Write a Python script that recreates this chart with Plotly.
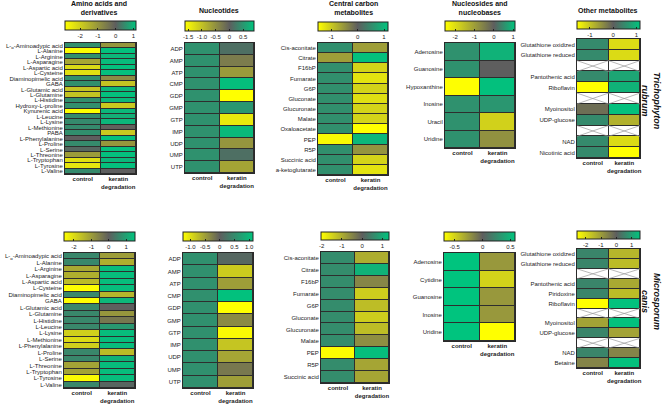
import plotly.graph_objects as go

W, H = 669, 405
YELLOW, GRAY, GREEN = "#FFFF00", "#5E5E5E", "#00C47E"
FONT = "Liberation Sans, Arial, sans-serif"

COLS = ["<b>control</b>", "<b>keratin<br>degradation</b>"]

# ---------------- Trichophyton rubrum ----------------
aa_tr_labels = ["L-<sub>α</sub>-Aminoadypic acid", "L-Alanine", "L-Arginine", "L-Asparagine", "L-Aspartic acid",
                "L-Cysteine", "Diaminopimelic acid", "GABA", "L-Glutamic acid", "L-Glutamine", "L-Histidine",
                "Hydroxy-L-proline", "Kynurenic acid", "L-Leucine", "L-Lysine", "L-Methionine", "PABA",
                "L-Phenylalanine", "L-Proline", "L-Serine", "L-Threonine", "L-Tryptophan", "L-Tyrosine", "L-Valine"]
aa_tr_control = [0.55, -2.8, 0.55, -1.3, -2.2, -2.3, 0.55, 0.55, -1.8, -1.8, 0.55, 0.55, -2.85, 0.5, 0.5, 0.5,
                 0.55, 0.0, 0.5, 0.1, -1.1, -2.3, -2.4, 0.5]
aa_tr_keratin = [-1.0, 1.1, 1.0, 1.05, 1.1, 1.1, -0.8, -1.8, 1.0, 1.1, 1.0, -1.9, 1.0, 0.9, 1.0, -0.05, -1.9,
                 1.1, -1.0, 1.1, 1.1, 1.0, 1.1, 0.0]

nt_tr_labels = ["ADP", "AMP", "ATP", "CMP", "GDP", "GMP", "GTP", "IMP", "UDP", "UMP", "UTP"]
nt_tr_control = [0.45] * 11
nt_tr_keratin = [0.15, -0.3, -0.6, 0.85, -1.62, 0.5, -1.4, 0.8, -0.55, 0.15, -0.7]

cc_tr_labels = ["Cis-aconitate", "Citrate", "F16bP", "Fumarate", "G6P", "Gluconate", "Glucuronate", "Malate",
                "Oxaloacetate", "PEP", "R5P", "Succinic acid", "a-ketoglutarate"]
cc_tr_control = [0.55, -0.6, 0.55, 0.55, 0.55, 0.55, 0.55, 0.55, 0.55, -1.45, 0.55, 0.55, 0.55]
cc_tr_keratin = [-0.6, 1.1, -1.1, -1.25, -1.1, -1.2, -1.1, -1.1, -1.5, 1.0, -0.5, -1.1, -1.25]

ns_tr_labels = ["Adenosine", "Guanosine", "Hypoxanthine", "Inosine", "Uracil", "Uridine"]
ns_tr_control = [0.55, 0.55, -2.5, 0.55, 0.55, 0.55]
ns_tr_keratin = [0.9, 0.0, 1.05, 0.6, -1.8, -0.8]

ot_tr_labels = ["Glutathione oxidized", "Glutathione reduced", "", "Pantothenic acid", "Riboflavin", "",
                "Myoinositol", "UDP-glucose", "", "NAD", "Nicotinic acid"]
ot_tr_control = [0.5, 0.5, None, 0.5, -1.55, None, -0.15, 0.5, None, 0.5, 0.5]
ot_tr_keratin = [-1.2, -1.2, None, 0.8, 0.95, None, 1.1, -0.8, None, -1.2, -1.55]

# ---------------- Microsporum canis ----------------
aa_mc_labels = ["L-<sub>α</sub>-Aminoadypic acid", "L-Alanine", "L-Arginine", "L-Asparagine", "L-Aspartic acid",
                "L-Cysteine", "Diaminopimelic acid", "GABA", "L-Glutamic acid", "L-Glutamine", "L-Histidine",
                "L-Leucine", "L-Lysine", "L-Methionine", "L-Phenylalanine", "L-Proline", "L-Serine",
                "L-Threonine", "L-Tryptophan", "L-Tyrosine", "L-Valine"]
aa_mc_control = [0.6, 0.6, -1.2, -1.3, -1.5, -2.55, 0.6, -2.55, 0.6, 0.6, 0.6, 0.6, -1.8, -2.0, -1.8, 0.6, 0.6,
                 -1.1, -1.1, -2.5, 0.6]
aa_mc_keratin = [-1.0, -1.3, 1.4, 1.4, 1.4, 1.4, -1.4, 1.3, 0.0, -0.9, -0.4, 0.85, 1.4, 1.4, 1.4, -1.5, 1.25,
                 1.4, 1.4, 1.4, 0.1]

nt_mc_labels = ["ADP", "AMP", "ATP", "CMP", "GDP", "GMP", "GTP", "IMP", "UDP", "UMP", "UTP"]
nt_mc_control = [0.55] * 11
nt_mc_keratin = [0.1, -0.85, -0.5, 1.1, -1.25, -0.35, -1.2, -0.8, -0.55, -0.2, -0.5]

cc_mc_labels = ["Cis-aconitate", "Citrate", "F16bP", "Fumarate", "G6P", "Gluconate", "Glucuronate", "Malate",
                "PEP", "R5P", "Succinic acid"]
cc_mc_control = [0.6, 0.6, 0.6, 0.6, 0.6, 0.6, 0.6, 0.6, -2.0, 0.6, 0.6]
cc_mc_keratin = [-1.0, 1.1, -0.5, -1.4, -1.2, -1.4, -1.2, -0.6, 1.25, -0.9, -0.9]

ns_mc_labels = ["Adenosine", "Cytidine", "Guanosine", "Inosine", "Uridine"]
ns_mc_control = [0.58, 0.58, 0.58, 0.58, 0.58]
ns_mc_keratin = [-0.25, -0.5, -0.25, -0.25, -0.69]

ot_mc_labels = ["Glutathione oxidized", "Glutathione reduced", "", "Pantothenic acid", "Piridoxine", "Riboflavin",
                "", "Myoinositol", "UDP-glucose", "", "NAD", "Betaine"]
ot_mc_control = [0.6, 0.6, None, 0.6, 0.6, -2.57, None, -1.1, 0.6, None, 0.6, -0.6]
ot_mc_keratin = [-1.4, -1.5, None, -1.2, -1.5, 1.5, None, 1.5, -1.1, None, -0.6, 1.5]

# colour ranges and colourbar ticks
ranges = [(-2.85, 1.15), (-1.62, 0.9), (-1.5, 1.15), (-2.52, 1.09), (-1.55, 1.15),
          (-2.57, 1.51), (-1.25, 1.13), (-2.03, 1.33), (-0.69, 0.58), (-2.57, 1.55)]
cb_ticks = [[-2, -1, 0, 1], [-1.5, -1.0, -0.5, 0, 0.5], [-1, 0, 1], [-2, -1, 0, 1], [-1, 0, 1],
            [-2, -1, 0, 1], [-1.0, -0.5, 0, 0.5, 1.0], [-2, -1, 0, 1], [-0.5, 0, 0.5], [-2, -1, 0, 1]]
cb_ticktext = [["-2", "-1", "0", "1"], ["-1.5", "-1.0", "-0.5", "0", "0.5"], ["-1", "0", "1"],
               ["-2", "-1", "0", "1"], ["-1", "0", "1"], ["-2", "-1", "0", "1"],
               ["-1.0", "-0.5", "0", "0.5", "1.0"], ["-2", "-1", "0", "1"], ["-0.5", "0", "0.5"],
               ["-2", "-1", "0", "1"]]

panels = [
    (aa_tr_labels, aa_tr_control, aa_tr_keratin), (nt_tr_labels, nt_tr_control, nt_tr_keratin),
    (cc_tr_labels, cc_tr_control, cc_tr_keratin), (ns_tr_labels, ns_tr_control, ns_tr_keratin),
    (ot_tr_labels, ot_tr_control, ot_tr_keratin),
    (aa_mc_labels, aa_mc_control, aa_mc_keratin), (nt_mc_labels, nt_mc_control, nt_mc_keratin),
    (cc_mc_labels, cc_mc_control, cc_mc_keratin), (ns_mc_labels, ns_mc_control, ns_mc_keratin),
    (ot_mc_labels, ot_mc_control, ot_mc_keratin),
]

# layout geometry (pixels): heatmap box (x0, x1, y0, y1) and colourbar (top, thickness)
boxes = [(65, 136, 43, 174), (185, 254, 43, 173), (318, 388, 43, 175), (445, 515, 43, 148), (577, 640, 39, 158),
         (64, 135, 253, 388), (183, 253, 253, 388), (321, 389, 252, 383), (444, 515, 253, 341), (577, 640, 249, 368)]
cbars = [(21, 9), (21, 10), (22, 9), (21, 10), (21, 8), (232, 9), (232, 9), (232, 8), (232, 9), (231, 8)]

fig = go.Figure()
layout = {}
for i, ((labels, ctrl, ker), (cmin, cmax), box, cb) in enumerate(zip(panels, ranges, boxes, cbars)):
    k = i + 1
    sfx = "" if k == 1 else str(k)
    xa, ya, ca = "x" + sfx, "y" + sfx, "coloraxis" + sfx
    n = len(labels)
    ys = list(range(n))
    z = [[c, v] for c, v in zip(ctrl, ker)]
    fig.add_trace(go.Heatmap(z=z, x=[0, 1], y=ys, coloraxis=ca, xgap=1, ygap=1,
                             xaxis=xa, yaxis=ya, hoverinfo="skip"))
    blanks = [j for j, l in enumerate(labels) if l == ""]
    if blanks:
        zb = [[1, 1] if l == "" else [None, None] for l in labels]
        fig.add_trace(go.Heatmap(z=zb, x=[0, 1], y=ys, colorscale=[[0, "white"], [1, "white"]],
                                 showscale=False, xgap=1, ygap=1, xaxis=xa, yaxis=ya, hoverinfo="skip"))
        xs, yl = [], []
        for b in blanks:
            for col in (0, 1):
                xs += [col - 0.5, col + 0.5, None, col - 0.5, col + 0.5, None]
                yl += [b - 0.5, b + 0.5, None, b + 0.5, b - 0.5, None]
        fig.add_trace(go.Scatter(x=xs, y=yl, mode="lines", line=dict(color="#9a9a9a", width=0.7),
                                 showlegend=False, hoverinfo="skip", xaxis=xa, yaxis=ya))
    x0, x1, y0, y1 = box
    layout["xaxis" + sfx] = dict(domain=[x0 / W, x1 / W], anchor=ya, range=[-0.5, 1.5], tickvals=[0, 1],
                                 ticktext=COLS, tickfont=dict(size=6, color="#222"), showline=True, mirror=True,
                                 linecolor="#2a2a2a", linewidth=1, ticks="", showgrid=False, zeroline=False,
                                 automargin=False, ticklabelstandoff=-1)
    layout["yaxis" + sfx] = dict(domain=[1 - y1 / H, 1 - y0 / H], anchor=xa, range=[n - 0.5, -0.5],
                                 tickvals=ys, ticktext=labels, tickfont=dict(size=6, color="#222"),
                                 showline=True, mirror=True, linecolor="#2a2a2a", linewidth=1, ticks="",
                                 showgrid=False, zeroline=False, automargin=False)
    p0 = (0 - cmin) / (cmax - cmin)
    top, th = cb
    layout[ca] = dict(cmin=cmin, cmax=cmax,
                      colorscale=[[0, YELLOW], [p0, GRAY], [1, GREEN]],
                      colorbar=dict(orientation="h", x=(x0 + x1) / 2 / W, xanchor="center",
                                    y=1 - top / H, yanchor="top", len=(x1 - x0) / W, lenmode="fraction",
                                    thickness=th, thicknessmode="pixels", outlinewidth=1, outlinecolor="#222",
                                    tickvals=cb_ticks[i], ticktext=cb_ticktext[i], ticks="inside", ticklen=2,
                                    tickcolor="#222", tickfont=dict(size=6, color="#222"), xpad=0, ypad=0))

titles = [("<b>Amino acids and<br>derivatives</b>", 99, 8), ("<b>Nucleotides</b>", 219, 11),
          ("<b>Central carbon<br>metabolites</b>", 353, 8), ("<b>Nucleosides and<br>nucleobases</b>", 480, 8),
          ("<b>Other metabolites</b>", 608, 10)]
ann = []
for t, cx, cy in titles:
    ann.append(dict(text=t, x=cx / W, y=1 - cy / H, xref="paper", yref="paper",
                    xanchor="center", yanchor="middle", showarrow=False,
                    font=dict(size=7, color="#111", family=FONT)))
species = [("<b><i>Trichophyton<br>rubrum</i></b>", 101), ("<b><i>Microsporum<br>canis</i></b>", 301)]
for t, cy in species:
    ann.append(dict(text=t, x=651 / W, y=1 - cy / H, xref="paper", yref="paper", xanchor="center",
                    yanchor="middle", textangle=90, showarrow=False,
                    font=dict(size=9, color="#111", family=FONT)))

fig.update_layout(width=W, height=H, margin=dict(l=0, r=0, t=0, b=0, autoexpand=False),
                  paper_bgcolor="white", plot_bgcolor="#2e2e2e", font=dict(family=FONT, size=6, color="#222"),
                  showlegend=False, annotations=ann, **layout)
fig.write_html("out.html", config={"displayModeBar": False},
               post_script="document.body.style.margin='0';")
